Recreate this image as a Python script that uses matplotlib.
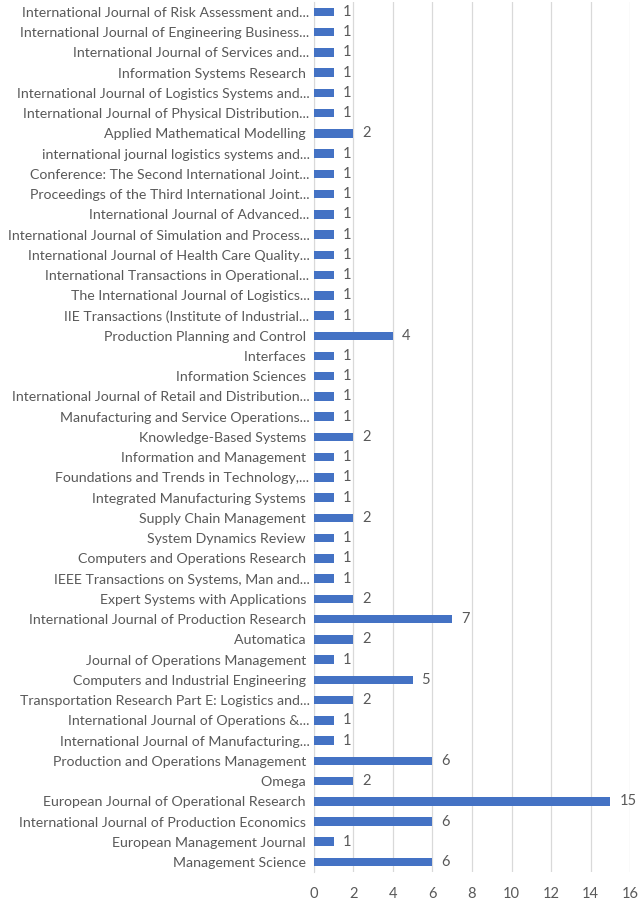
import matplotlib
matplotlib.use("Agg")
import matplotlib.pyplot as plt

journals = [
    "International Journal of Risk Assessment and...",
    "International Journal of Engineering Business...",
    "International Journal of Services and...",
    "Information Systems Research ",
    "International Journal of Logistics Systems and...",
    "International Journal of Physical Distribution...",
    "Applied Mathematical Modelling ",
    "international journal logistics systems and...",
    "Conference: The Second International Joint...",
    "Proceedings of the Third International Joint...",
    "International Journal of Advanced...",
    "International Journal of Simulation and Process...",
    "International Journal of Health Care Quality...",
    "International Transactions in Operational...",
    "The International Journal of Logistics...",
    "IIE Transactions (Institute of Industrial...",
    "Production Planning and Control ",
    "Interfaces ",
    "Information Sciences ",
    "International Journal of Retail and Distribution...",
    "Manufacturing and Service Operations...",
    "Knowledge-Based Systems ",
    "Information and Management ",
    "Foundations and Trends in Technology,...",
    "Integrated Manufacturing Systems ",
    "Supply Chain Management ",
    "System Dynamics Review ",
    "Computers and Operations Research ",
    "IEEE Transactions on Systems, Man and...",
    "Expert Systems with Applications ",
    "International Journal of Production Research ",
    "Automatica ",
    "Journal of Operations Management ",
    "Computers and Industrial Engineering ",
    "Transportation Research Part E: Logistics and...",
    "International Journal of Operations &...",
    "International Journal of Manufacturing...",
    "Production and Operations Management ",
    "Omega ",
    "European Journal of Operational Research ",
    "International Journal of Production Economics ",
    "European Management Journal ",
    "Management Science ",
]
counts = [1, 1, 1, 1, 1, 1, 2, 1, 1, 1, 1, 1, 1, 1, 1, 1, 4, 1, 1, 1, 1, 2, 1, 1, 1, 2, 1, 1, 1, 2,
          7, 2, 1, 5, 2, 1, 1, 6, 2, 15, 6, 1, 6]
xticks = [0, 2, 4, 6, 8, 10, 12, 14, 16]

plt.rcParams['font.family'] = ['Lato', 'DejaVu Sans']
text_color = '#595959'

fig = plt.figure(figsize=(6.43, 9.0), dpi=100)
ax = fig.add_axes([0.488, 0.031, 0.492, 0.967])

n = len(journals)
ypos = list(range(n - 1, -1, -1))
ax.barh(ypos, counts, height=0.42, color='#4472C4', zorder=3)
for y, v in zip(ypos, counts):
    ax.text(v + 0.45, y, str(v), va='center', ha='left', fontsize=10.5, color=text_color)

ax.set_yticks(ypos)
ax.set_yticklabels(journals, fontsize=10.2, color=text_color)
ax.set_ylim(-0.5, n - 0.5)
ax.set_xlim(0, 16)
ax.set_xticks(xticks)
ax.set_xticklabels([str(t) for t in xticks], fontsize=10.5, color=text_color)
ax.grid(axis='x', color='#D9D9D9', linewidth=0.9, zorder=0)
for s in ['top', 'right', 'bottom']:
    ax.spines[s].set_visible(False)
ax.spines['left'].set_color('#D9D9D9')
ax.tick_params(axis='both', length=0)
ax.tick_params(axis='y', pad=3)
ax.tick_params(axis='x', pad=11)

fig.savefig('out.png', dpi=100)
